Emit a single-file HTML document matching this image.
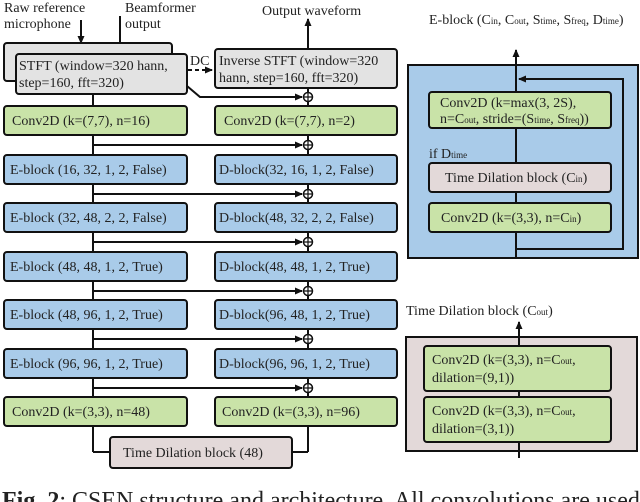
<!DOCTYPE html>
<html><head><meta charset="utf-8"><style>
body{margin:0;background:#fff;}
svg{display:block;font-family:"Liberation Serif",serif;}
text{fill:#222;}
</style></head><body>
<svg width="640" height="502" viewBox="0 0 640 502" xmlns="http://www.w3.org/2000/svg">
<defs>
<marker id="ah" markerWidth="8" markerHeight="8" refX="7" refY="4" orient="auto" markerUnits="userSpaceOnUse">
<path d="M0,0.5 L8,4 L0,7.5 z" fill="#111"/></marker>
</defs>
<g font-size="14">
<text x="4" y="12">Raw reference</text>
<text x="4" y="28">microphone</text>
<text x="125" y="12">Beamformer</text>
<text x="125" y="28">output</text>
<text x="262" y="15">Output waveform</text>
<line x1="81" y1="20" x2="81" y2="43" stroke="#111" stroke-width="2" marker-end="url(#ah)"/>
<line x1="120" y1="16" x2="120" y2="54" stroke="#111" stroke-width="2" marker-end="url(#ah)"/>
<line x1="308" y1="48" x2="308" y2="19" stroke="#111" stroke-width="2" marker-end="url(#ah)"/>

<line x1="93" y1="94" x2="93" y2="452" stroke="#111" stroke-width="2"/>
<line x1="308" y1="88" x2="308" y2="452" stroke="#111" stroke-width="2"/>
<polyline points="93,452 110,452" fill="none" stroke="#111" stroke-width="2"/>
<polyline points="292,452 308,452" fill="none" stroke="#111" stroke-width="2"/>

<rect x="4" y="43" width="168" height="38" rx="3" fill="#e3e3e3" stroke="#111" stroke-width="2"/>
<rect x="16" y="54" width="171" height="40" rx="3" fill="#e3e3e3" stroke="#111" stroke-width="2"/>
<text x="19" y="70">STFT (window=320 hann,</text>
<text x="19" y="87">step=160, fft=320)</text>
<rect x="215" y="49" width="182" height="39" rx="3" fill="#e3e3e3" stroke="#111" stroke-width="2"/>
<text x="219" y="65">Inverse STFT (window=320</text>
<text x="219" y="82">hann, step=160, fft=320)</text>
<line x1="188" y1="70" x2="212" y2="70" stroke="#111" stroke-width="2" stroke-dasharray="4,3" marker-end="url(#ah)"/>
<text x="190" y="65">DC</text>
<polyline points="187,86 200,97 302,97" fill="none" stroke="#111" stroke-width="2" marker-end="url(#ah)"/>

<g stroke="#111" stroke-width="2">
<rect x="4" y="106" width="183" height="29" rx="3" fill="#c9e3a8"/>
<rect x="215" y="106" width="182" height="29" rx="3" fill="#c9e3a8"/>
<rect x="4" y="155" width="183" height="29" rx="3" fill="#a9cbe9"/>
<rect x="215" y="155" width="182" height="29" rx="3" fill="#a9cbe9"/>
<rect x="4" y="203" width="183" height="29" rx="3" fill="#a9cbe9"/>
<rect x="215" y="203" width="182" height="29" rx="3" fill="#a9cbe9"/>
<rect x="4" y="252" width="183" height="29" rx="3" fill="#a9cbe9"/>
<rect x="215" y="252" width="182" height="29" rx="3" fill="#a9cbe9"/>
<rect x="4" y="300" width="183" height="29" rx="3" fill="#a9cbe9"/>
<rect x="215" y="300" width="182" height="29" rx="3" fill="#a9cbe9"/>
<rect x="4" y="349" width="183" height="29" rx="3" fill="#a9cbe9"/>
<rect x="215" y="349" width="182" height="29" rx="3" fill="#a9cbe9"/>
<rect x="4" y="397" width="183" height="29" rx="3" fill="#c9e3a8"/>
<rect x="215" y="397" width="182" height="29" rx="3" fill="#c9e3a8"/>
<rect x="110" y="437" width="182" height="31" rx="3" fill="#e3d9d9"/>
</g>
<text x="12" y="125">Conv2D (k=(7,7), n=16)</text>
<text x="224" y="125">Conv2D (k=(7,7), n=2)</text>
<text x="10" y="174">E-block (16, 32, 1, 2, False)</text>
<text x="219" y="174">D-block(32, 16, 1, 2, False)</text>
<text x="10" y="222">E-block (32, 48, 2, 2, False)</text>
<text x="219" y="222">D-block(48, 32, 2, 2, False)</text>
<text x="10" y="271">E-block (48, 48, 1, 2, True)</text>
<text x="219" y="271">D-block(48, 48, 1, 2, True)</text>
<text x="10" y="319">E-block (48, 96, 1, 2, True)</text>
<text x="219" y="319">D-block(96, 48, 1, 2, True)</text>
<text x="10" y="368">E-block (96, 96, 1, 2, True)</text>
<text x="219" y="368">D-block(96, 96, 1, 2, True)</text>
<text x="12" y="416">Conv2D (k=(3,3), n=48)</text>
<text x="222" y="416">Conv2D (k=(3,3), n=96)</text>
<text x="123" y="457">Time Dilation block (48)</text>

<g stroke="#111" stroke-width="2" fill="none">
<line x1="93" y1="145" x2="302" y2="145" marker-end="url(#ah)"/>
<line x1="93" y1="194" x2="302" y2="194" marker-end="url(#ah)"/>
<line x1="93" y1="242" x2="302" y2="242" marker-end="url(#ah)"/>
<line x1="93" y1="291" x2="302" y2="291" marker-end="url(#ah)"/>
<line x1="93" y1="339" x2="302" y2="339" marker-end="url(#ah)"/>
<line x1="93" y1="388" x2="302" y2="388" marker-end="url(#ah)"/>
</g>
<g stroke="#111" stroke-width="1.5" fill="#fff">
<circle cx="308" cy="97" r="4.5"/><circle cx="308" cy="145" r="4.5"/><circle cx="308" cy="194" r="4.5"/>
<circle cx="308" cy="242" r="4.5"/><circle cx="308" cy="291" r="4.5"/><circle cx="308" cy="339" r="4.5"/>
<circle cx="308" cy="388" r="4.5"/>
</g>
<g stroke="#111" stroke-width="1.2">
<path d="M304,97h8M308,93v8M304,145h8M308,141v8M304,194h8M308,190v8M304,242h8M308,238v8M304,291h8M308,287v8M304,339h8M308,335v8M304,388h8M308,384v8"/>
</g>

<text x="429" y="24">E-block (C<tspan font-size="9">in</tspan>, C<tspan font-size="9">out</tspan>, S<tspan font-size="9">time</tspan>, S<tspan font-size="9">freq</tspan>, D<tspan font-size="9">time</tspan>)</text>
<rect x="408" y="65" width="230" height="193" fill="#a9cbe9" stroke="#111" stroke-width="2"/>
<line x1="516" y1="258" x2="516" y2="50" stroke="#111" stroke-width="2" marker-end="url(#ah)"/>
<polyline points="516,249 623,249 623,79 519,79" fill="none" stroke="#111" stroke-width="2" marker-end="url(#ah)"/>
<rect x="429" y="92" width="182" height="36" rx="3" fill="#c9e3a8" stroke="#111" stroke-width="2"/>
<text x="440" y="107">Conv2D (k=max(3, 2S),</text>
<text x="440" y="123">n=C<tspan font-size="9">out</tspan>, stride=(S<tspan font-size="9">time</tspan>, S<tspan font-size="9">freq</tspan>))</text>
<text x="429" y="158">if D<tspan font-size="9">time</tspan></text>
<rect x="429" y="163" width="182" height="29" rx="3" fill="#e3d9d9" stroke="#111" stroke-width="2"/>
<text x="445" y="182">Time Dilation block (C<tspan font-size="9">in</tspan>)</text>
<rect x="429" y="203" width="182" height="29" rx="3" fill="#c9e3a8" stroke="#111" stroke-width="2"/>
<text x="441" y="222">Conv2D (k=(3,3), n=C<tspan font-size="9">in</tspan>)</text>

<text x="406" y="315">Time Dilation block (C<tspan font-size="9">out</tspan>)</text>
<rect x="406" y="337" width="231" height="114" fill="#e3d9d9" stroke="#111" stroke-width="2"/>
<line x1="519" y1="458" x2="519" y2="322" stroke="#111" stroke-width="2" marker-end="url(#ah)"/>
<rect x="424" y="346" width="187" height="45" rx="3" fill="#c9e3a8" stroke="#111" stroke-width="2"/>
<text x="432" y="364">Conv2D (k=(3,3), n=C<tspan font-size="9">out</tspan>,</text>
<text x="432" y="382">dilation=(9,1))</text>
<rect x="424" y="397" width="187" height="45" rx="3" fill="#c9e3a8" stroke="#111" stroke-width="2"/>
<text x="432" y="415">Conv2D (k=(3,3), n=C<tspan font-size="9">out</tspan>,</text>
<text x="432" y="433">dilation=(3,1))</text>
</g>
<text x="2" y="508" font-size="24"><tspan font-weight="bold">Fig. 2</tspan>: CSEN structure and architecture. All convolutions are used</text>
</svg>
</body></html>
